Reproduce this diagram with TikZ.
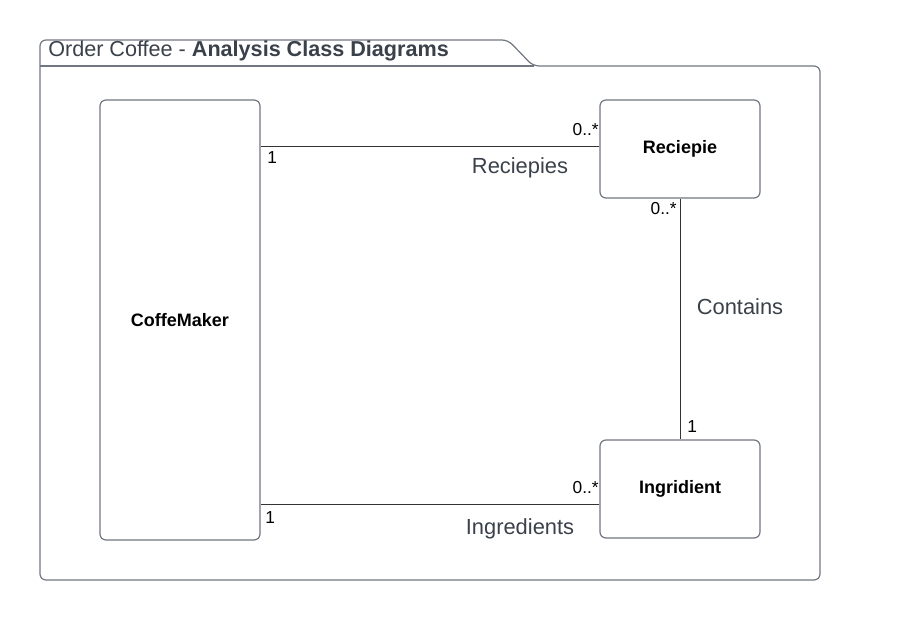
\documentclass[tikz,border=0pt]{standalone}
\usepackage{fontspec}
\setmainfont{Liberation Sans}
\definecolor{framegray}{HTML}{717780}
\definecolor{labelgray}{HTML}{3A414A}
\definecolor{linedark}{HTML}{333333}
\tikzset{
  classbox/.style={draw=framegray, line width=0.9pt, rounded corners=4.5pt, fill=white,
    font=\fontsize{13.5}{16}\selectfont\bfseries, text=black, inner sep=0pt},
  assoc/.style={draw=linedark, line width=0.75pt},
  mult/.style={font=\fontsize{13}{15}\selectfont, text=black, inner sep=0pt},
  rolelabel/.style={font=\fontsize{16.4}{19}\selectfont, text=labelgray, inner sep=0pt},
}
\begin{document}
\begin{tikzpicture}[x=0.75pt,y=-0.75pt]
\useasboundingbox (0,0) rectangle (900,620);
% frame
\draw[framegray, line width=0.9pt, rounded corners=4.5pt] (40,580) -- (40,40) -- (508,40) -- (533,66) -- (820,66) -- (820,580) -- cycle;
\draw[framegray, line width=0.9pt] (40,66) -- (534,66);
\node[anchor=base west, inner sep=0pt, text=labelgray, font=\fontsize{16.2}{19}\selectfont] (title) at (48,57) {Order Coffee - \textbf{Analysis Class Diagrams}};
% classes
\node[classbox, minimum width=120pt, minimum height=330pt] (cm) at (180,320) {CoffeMaker};
\node[classbox, minimum width=120pt, minimum height=73.5pt] (rec) at (680,149) {Reciepie};
\node[classbox, minimum width=120pt, minimum height=73.5pt] (ing) at (680,489) {Ingridient};
% connectors
\coordinate (r1) at ([yshift=1.5pt]rec.west);
\coordinate (i1) at ([yshift=-11.25pt]ing.west);
\draw[assoc] (r1) -- (r1 -| cm.east);
\draw[assoc] (i1) -- (i1 -| cm.east);
\draw[assoc] (rec.south) -- (ing.north);
% multiplicities
\node[mult, anchor=base west] (m1) at (267,164) {1};
\node[mult, anchor=base east] (m2) at (599,136) {0..*};
\node[mult, anchor=base east] (m3) at (677,215) {0..*};
\node[mult, anchor=base west] (m4) at (687,432) {1};
\node[mult, anchor=base east] (m5) at (599,493) {0..*};
\node[mult, anchor=base west] (m6) at (265,523) {1};
% role labels
\node[rolelabel, anchor=base] (l1) at (520,174) {Reciepies};
\node[rolelabel, anchor=base] (l2) at (740,315) {Contains};
\node[rolelabel, anchor=base] (l3) at (520,534) {Ingredients};
\end{tikzpicture}
\end{document}
